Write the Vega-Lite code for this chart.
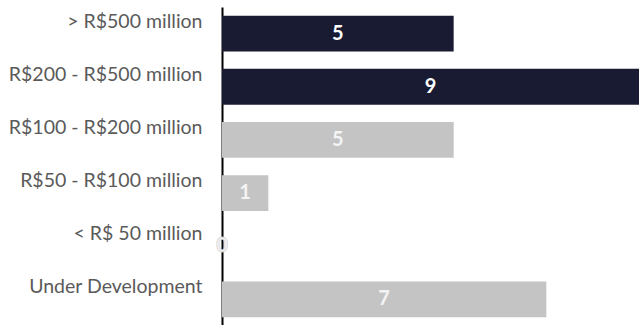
{
  "$schema": "https://vega.github.io/schema/vega-lite/v6.json",
  "width": 417,
  "height": 319,
  "autosize": {"type": "none"},
  "padding": {"left": 222, "top": 7, "right": 0, "bottom": 0},
  "background": "white",
  "config": {"view": {"stroke": null}},
  "data": {
    "values": [
      {"category": "> R$500 million", "count": 5, "group": "top"},
      {"category": "R$200 - R$500 million", "count": 9, "group": "top"},
      {"category": "R$100 - R$200 million", "count": 5, "group": "other"},
      {"category": "R$50 - R$100 million", "count": 1, "group": "other"},
      {"category": "< R$ 50 million", "count": 0, "group": "other"},
      {"category": "Under Development", "count": 7, "group": "other"}
    ]
  },
  "encoding": {
    "y": {
      "field": "category",
      "type": "nominal",
      "sort": null,
      "scale": {"paddingInner": 0.325, "paddingOuter": 0.163},
      "axis": {
        "title": null,
        "ticks": false,
        "domainColor": "#000000",
        "domainWidth": 2,
        "labelPadding": 20,
        "labelOffset": -12,
        "labelFont": "Lato",
        "labelFontSize": 19.5,
        "labelFontWeight": "normal",
        "labelColor": "#5a5a5a",
        "labelLimit": 300
      }
    }
  },
  "layer": [
    {
      "mark": {"type": "bar"},
      "encoding": {
        "x": {"field": "count", "type": "quantitative", "scale": {"domain": [0, 9], "nice": false}, "axis": null},
        "color": {"field": "group", "type": "nominal", "scale": {"domain": ["top", "other"], "range": ["#191b33", "#c4c4c4"]}, "legend": null}
      }
    },
    {
      "transform": [{"calculate": "datum.count / 2", "as": "mid"}],
      "mark": {"type": "text", "font": "Lato", "fontSize": 20, "fontWeight": "bold", "align": "center", "baseline": "middle", "strokeWidth": 0.8},
      "encoding": {
        "x": {"field": "mid", "type": "quantitative"},
        "text": {"field": "count", "type": "quantitative"},
        "color": {"condition": {"test": "datum.group == 'top'", "value": "#ffffff"}, "value": "#f4f4f4"},
        "stroke": {"condition": {"test": "datum.count == 0", "value": "#d6d6d6"}, "value": null}
      }
    }
  ]
}
